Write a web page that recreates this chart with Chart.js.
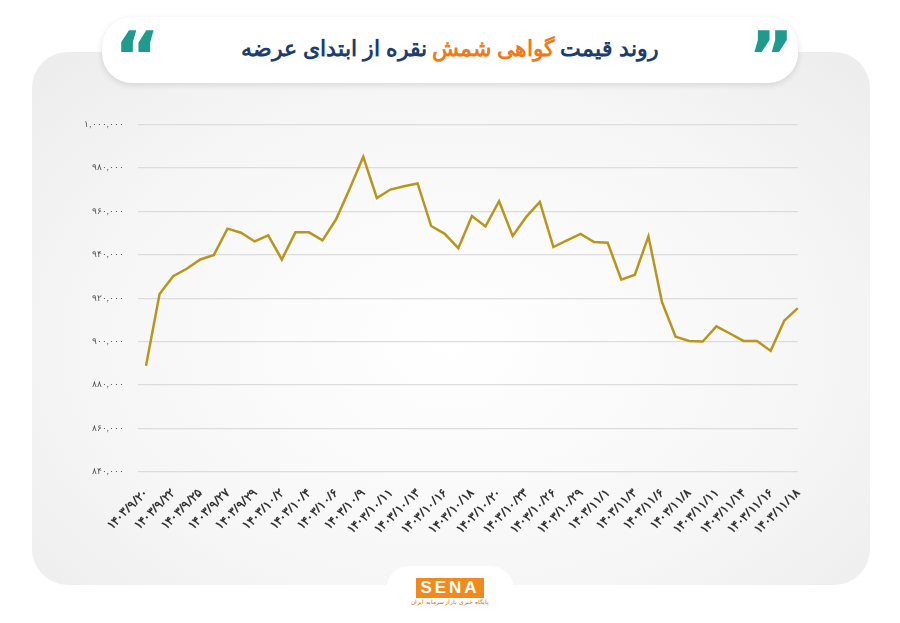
<!DOCTYPE html>
<html><head><meta charset="utf-8">
<script src="https://cdn.jsdelivr.net/npm/chart.js@4"></script>
<style>
body{margin:0;width:900px;height:623px;background:#fff;position:relative;overflow:hidden;font-family:"Noto Sans",sans-serif}
#card{position:absolute;left:32px;top:52px;width:838px;height:533px;border-radius:36px;background:radial-gradient(ellipse at 50% 55%,#ffffff 0%,#f6f6f6 60%,#ececec 100%)}
#title{position:absolute;left:102px;top:17px;width:696px;height:66px;border-radius:30px;background:#fff;box-shadow:0 2px 6px rgba(0,0,0,0.12);text-align:center;line-height:60px;font-size:22px;font-weight:bold;color:#1c3d6e;direction:rtl}
#title span{color:#f07a1a}
.q{position:absolute;top:22px;font-size:70px;font-weight:bold;color:#1f9b8e;font-family:"DejaVu Sans",sans-serif;line-height:70px;letter-spacing:-8px}
#logo{position:absolute;left:386px;top:566px;width:128px;height:60px;border-radius:24px 24px 0 0;background:#fff;text-align:center}
#logo b{display:inline-block;margin-top:12px;background:#f08a1c;color:#fff;font-size:17px;letter-spacing:3px;padding:0 4px;font-family:"Liberation Sans"}
#logo div{font-size:6px;color:#d56b10;direction:rtl}
#wrap{position:absolute;left:70px;top:105px;width:744px;height:438px}
</style></head><body>
<div id="card"></div>
<div id="title">روند قیمت <span>گواهی شمش</span> نقره از ابتدای عرضه</div>
<div class="q" style="left:114px">“</div>
<div class="q" style="left:748px">”</div>
<div id="logo"><b>SENA</b><div>پایگاه خبری بازار سرمایه ایران</div></div>
<div id="wrap"><canvas id="c"></canvas></div>
<script>
const dateLabels=["۱۴۰۳/۹/۲۰","","۱۴۰۳/۹/۲۲","","۱۴۰۳/۹/۲۵","","۱۴۰۳/۹/۲۷","","۱۴۰۳/۹/۲۹","","۱۴۰۳/۱۰/۲","","۱۴۰۳/۱۰/۴","","۱۴۰۳/۱۰/۶","","۱۴۰۳/۱۰/۹","","۱۴۰۳/۱۰/۱۱","","۱۴۰۳/۱۰/۱۳","","۱۴۰۳/۱۰/۱۶","","۱۴۰۳/۱۰/۱۸","","۱۴۰۳/۱۰/۲۰","","۱۴۰۳/۱۰/۲۳","","۱۴۰۳/۱۰/۲۶","","۱۴۰۳/۱۰/۲۹","","۱۴۰۳/۱۱/۱","","۱۴۰۳/۱۱/۳","","۱۴۰۳/۱۱/۶","","۱۴۰۳/۱۱/۸","","۱۴۰۳/۱۱/۱۱","","۱۴۰۳/۱۱/۱۴","","۱۴۰۳/۱۱/۱۶","","۱۴۰۳/۱۱/۱۸"];
const prices=[888800,921900,930100,933500,937800,939900,952000,950100,946100,948900,937800,950300,950300,946600,956300,970400,985100,966100,970000,971500,972800,953200,949600,943000,957800,953000,964600,948600,957400,964300,943500,946600,949600,945800,945500,928500,930800,948400,918100,902200,900300,900000,907000,903700,900300,900300,895700,909600,915400];
const yMin=840000,yMax=1000000,yStep=20000;
const fa=n=>n.toLocaleString('en-US').replace(/\d/g,d=>"۰۱۲۳۴۵۶۷۸۹"[d]);
new Chart(document.getElementById('c'),{type:'line',
data:{labels:dateLabels,datasets:[{data:prices,borderColor:'#b8961e',borderWidth:2.5,pointRadius:0,tension:0,fill:false}]},
options:{responsive:true,maintainAspectRatio:false,animation:false,
plugins:{legend:{display:false},tooltip:{enabled:false}},
scales:{
x:{grid:{display:false},border:{display:false},ticks:{autoSkip:false,maxRotation:45,minRotation:45,color:'#333',padding:6,font:{size:12,weight:'bold',family:'Noto Sans'}}},
y:{min:yMin,max:yMax,ticks:{stepSize:yStep,color:'#555',font:{size:9},padding:14,callback:v=>fa(v)},grid:{color:'#dcdcdc',lineWidth:1.2},border:{display:false}}
}}});
</script></body></html>
